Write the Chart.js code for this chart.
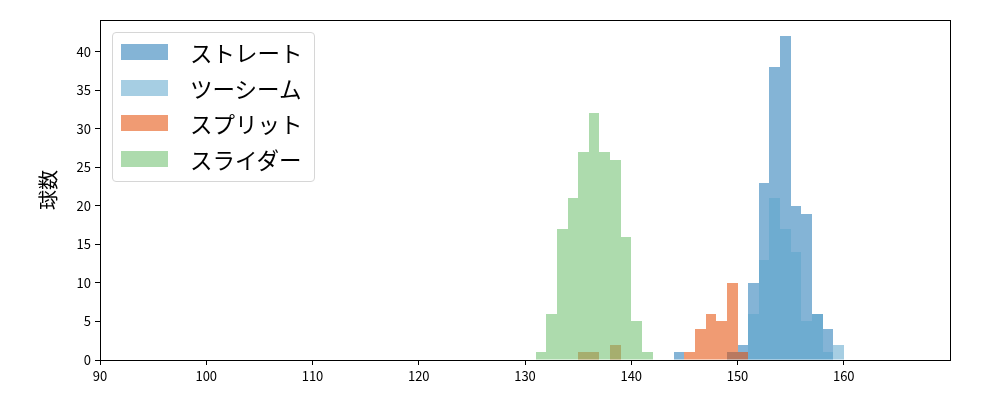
<!DOCTYPE html>
<html>
<head>
<meta charset="utf-8">
<script src="https://cdn.jsdelivr.net/npm/chart.js@4/dist/chart.umd.min.js"></script>
<style>
  body { margin: 0; background: #fff; }
  #wrap { position: relative; width: 1000px; height: 400px; }
  #legend {
    position: absolute; left: 112px; top: 32px; width: 201px; height: 148px;
    border: 1px solid #d6d6d6; border-radius: 4px; background: rgba(255,255,255,0.8);
    font-family: "Noto Sans CJK JP", sans-serif; font-size: 22.5px; color: #000;
  }
  .patch { position: absolute; left: 8px; width: 47px; height: 16px; }
  .lbl { position: absolute; left: 77px; height: 16px; line-height: 16px; white-space: nowrap; }
</style>
</head>
<body>
<div id="wrap">
  <canvas id="c" width="1000" height="400"></canvas>
  <div id="legend"></div>
</div>
<script>
// series names (legend order)
const seriesNames = ['ストレート', 'ツーシーム', 'スプリット', 'スライダー'];
const seriesColors = ['rgba(31,119,180,0.55)', 'rgba(93,166,204,0.55)', 'rgba(228,72,0,0.55)', 'rgba(106,190,106,0.55)'];

// left edges of 1 km/h bins and pitch counts
const straightBins = [144, 149, 150, 151, 152, 153, 154, 155, 156, 157, 158];
const straightCounts = [1, 1, 2, 10, 23, 38, 42, 20, 19, 6, 4];

const twoSeamBins = [151, 152, 153, 154, 155, 156, 157, 158, 159];
const twoSeamCounts = [6, 13, 21, 17, 14, 5, 6, 1, 2];

const splitBins = [135, 136, 138, 145, 146, 147, 148, 149, 150];
const splitCounts = [1, 1, 2, 1, 4, 6, 5, 10, 1];

const sliderBins = [131, 132, 133, 134, 135, 136, 137, 138, 139, 140, 141];
const sliderCounts = [1, 6, 17, 21, 27, 32, 27, 26, 16, 5, 1];

const xTicks = [90, 100, 110, 120, 130, 140, 150, 160];
const yTicks = [0, 5, 10, 15, 20, 25, 30, 35, 40];

const allBins = [straightBins, twoSeamBins, splitBins, sliderBins];
const allCounts = [straightCounts, twoSeamCounts, splitCounts, sliderCounts];

function points(bins, counts) {
  var out = [];
  for (let i = 0; i < bins.length; i++) {
    out.push({x: bins[i] + 0.5, y: counts[i]});
  }
  return out;
}

var datasets = [];
for (let i = 0; i < seriesNames.length; i++) {
  datasets.push({
    label: seriesNames[i],
    data: points(allBins[i], allCounts[i]),
    backgroundColor: seriesColors[i],
    borderWidth: 0,
    inflateAmount: 0,
    grouped: false,
    barPercentage: 1,
    categoryPercentage: 1,
    order: seriesNames.length - i   // later series drawn on top
  });
}

const tickFont = {family: '"Noto Sans CJK JP", sans-serif', size: 13};

// snap bar sides to whole pixels so neighbouring bins don't show seams
const snapBars = {
  id: 'snapBars',
  beforeDatasetsDraw(chart) {
    chart.getSortedVisibleDatasetMetas().forEach(meta => {
      meta.data.forEach(el => {
        const l = Math.round(el.x - el.width / 2);
        const r = Math.round(el.x + el.width / 2);
        el.x = (l + r) / 2;
        el.width = r - l;
        el.y = Math.round(el.y);
      });
    });
  }
};

// box round the plot area
const frame = {
  id: 'frame',
  afterDraw(chart) {
    const a = chart.chartArea, ctx = chart.ctx;
    ctx.save();
    ctx.strokeStyle = '#000';
    ctx.lineWidth = 1;
    ctx.strokeRect(Math.round(a.left) + 0.5, Math.round(a.top) + 0.5, Math.round(a.right - a.left), Math.round(a.bottom - a.top));
    ctx.restore();
  }
};

new Chart(document.getElementById('c'), {
  type: 'bar',
  data: {datasets: datasets},
  options: {
    responsive: false,
    animation: false,
    layout: {padding: {left: 0, top: 20, right: 50, bottom: 0}},
    plugins: {legend: {display: false}, tooltip: {enabled: false}},
    scales: {
      x: {
        type: 'linear',
        min: 90, max: 170,
        offset: false,
        afterBuildTicks: s => { s.ticks = xTicks.map(v => ({value: v})); },
        afterFit: s => { s.height = 40; },
        ticks: {font: tickFont, color: '#000', padding: 3, maxRotation: 0},
        grid: {drawOnChartArea: false, offset: false, tickLength: 5, color: '#000'},
        border: {display: false}
      },
      y: {
        min: 0, max: 44.1,
        afterBuildTicks: s => { s.ticks = yTicks.map(v => ({value: v})); },
        afterFit: s => { s.width = 100; },
        ticks: {font: tickFont, color: '#000', padding: 4},
        grid: {drawOnChartArea: false, tickLength: 5, color: '#000'},
        border: {display: false},
        title: {
          display: true, text: '球数', color: '#000',
          font: {family: '"Noto Sans CJK JP", sans-serif', size: 20},
          padding: {top: 36, bottom: 0}
        }
      }
    }
  },
  plugins: [snapBars, frame]
});

// legend box in the upper left of the plot
var leg = document.getElementById('legend');
for (let i = 0; i < seriesNames.length; i++) {
  let rowTop = 11 + i * 35.7;
  let p = document.createElement('div');
  p.className = 'patch';
  p.style.top = rowTop + 'px';
  p.style.background = seriesColors[i];
  leg.appendChild(p);
  let t = document.createElement('div');
  t.className = 'lbl';
  t.style.top = rowTop + 'px';
  t.appendChild(document.createTextNode(seriesNames[i]));
  leg.appendChild(t);
}
</script>
</body>
</html>
